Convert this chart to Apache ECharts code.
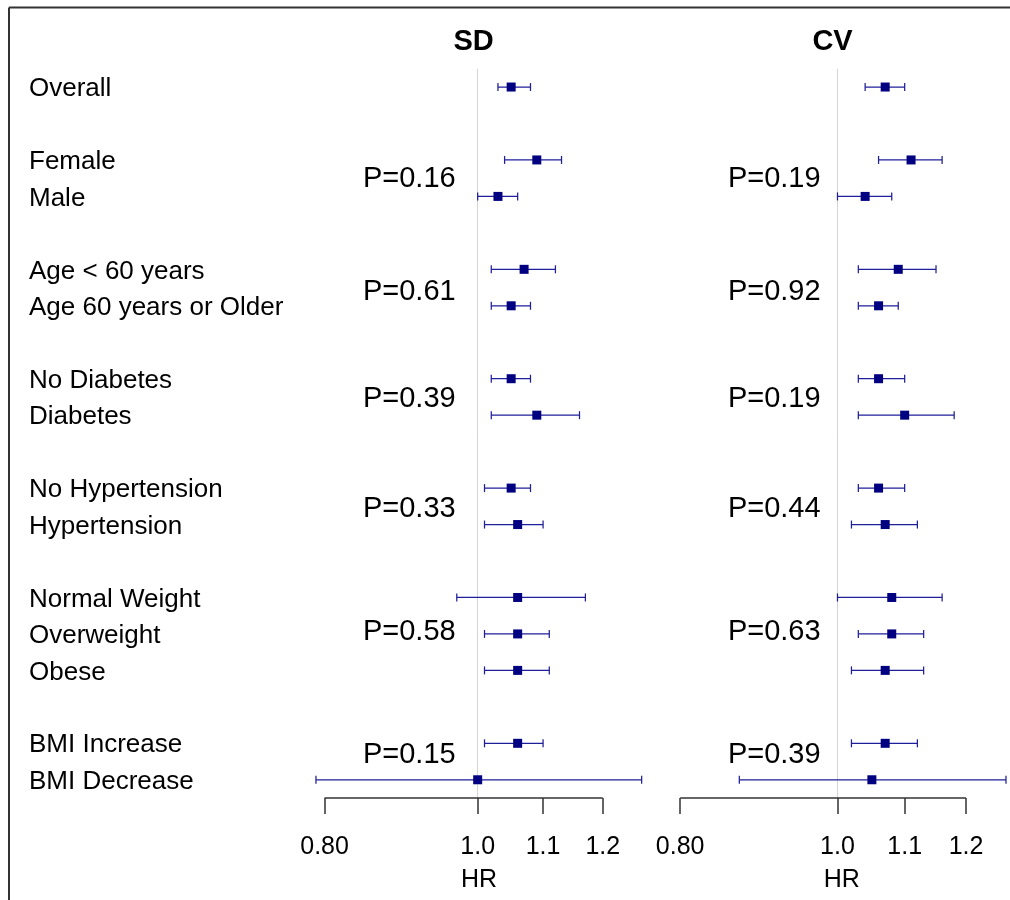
<!DOCTYPE html>
<html>
<head>
<meta charset="utf-8">
<script src="https://cdn.jsdelivr.net/npm/echarts@6/dist/echarts.min.js"></script>
<style>
html,body{margin:0;padding:0;background:#fff;}
#chart{width:1010px;height:900px;}
</style>
</head>
<body>
<div id="chart"></div>
<script>
// ---- data ----
const rowLabels = ['Overall','Female','Male','Age < 60 years','Age 60 years or Older','No Diabetes','Diabetes','No Hypertension','Hypertension','Normal Weight','Overweight','Obese','BMI Increase','BMI Decrease'];
const rowIndex = [0,2,3,5,6,8,9,11,12,14,15,16,18,19];

const sdEst  = [1.05,1.09,1.03,1.07,1.05,1.05,1.09,1.05,1.06,1.06,1.06,1.06,1.06,1.00];
const sdLow  = [1.03,1.04,1.00,1.02,1.02,1.02,1.02,1.01,1.01,0.97,1.01,1.01,1.01,0.79];
const sdHigh = [1.08,1.13,1.06,1.12,1.08,1.08,1.16,1.08,1.10,1.17,1.11,1.11,1.10,1.27];

const cvEst  = [1.07,1.11,1.04,1.09,1.06,1.06,1.10,1.06,1.07,1.08,1.08,1.07,1.07,1.05];
const cvLow  = [1.04,1.06,1.00,1.03,1.03,1.03,1.03,1.03,1.02,1.00,1.03,1.02,1.02,0.87];
const cvHigh = [1.10,1.16,1.08,1.15,1.09,1.10,1.18,1.10,1.12,1.16,1.13,1.13,1.12,1.27];

const pRows = [2.51,5.61,8.56,11.56,14.96,18.31];
const sdP = ['P=0.16','P=0.61','P=0.39','P=0.33','P=0.58','P=0.15'];
const cvP = ['P=0.19','P=0.92','P=0.19','P=0.44','P=0.63','P=0.39'];

const tickHR = [0.8,1.0,1.1,1.2];
const tickText = ['0.80','1.0','1.1','1.2'];

const panelTitles = ['SD','CV'];
const axisTitle = 'HR';

// ---- helpers ----
const FONT = "'Liberation Sans', Arial, sans-serif";
const ln = Math.log;
const tickLn = tickHR.map(ln);
const NAVY = '#000080';
const LABEL_SHIFT = 0.055; // small baseline correction for row labels

function ciData(est, low, high) {
  return est.map((e, i) => [ln(low[i]), ln(high[i]), ln(e), rowIndex[i]]);
}

function renderCI(params, api) {
  const y = api.value(3);
  const a = api.coord([api.value(0), y]);
  const b = api.coord([api.value(1), y]);
  const c = api.coord([api.value(2), y]);
  const cap = 4, sq = 9;
  const ls = { stroke: '#1f1f9a', lineWidth: 1.25 };
  return {
    type: 'group',
    children: [
      { type: 'line', shape: { x1: a[0], y1: a[1], x2: b[0], y2: b[1] }, style: ls },
      { type: 'line', shape: { x1: a[0], y1: a[1] - cap, x2: a[0], y2: a[1] + cap }, style: ls },
      { type: 'line', shape: { x1: b[0], y1: b[1] - cap, x2: b[0], y2: b[1] + cap }, style: ls },
      { type: 'rect', shape: { x: c[0] - sq / 2, y: c[1] - sq / 2, width: sq, height: sq }, style: { fill: NAVY } }
    ]
  };
}

const GRID_TOP = 68.8, GRID_H = 729.2;
const grids = [
  { left: 299.3, top: GRID_TOP, width: 349.9, height: GRID_H, outerBoundsMode: 'none', containLabel: false },
  { left: 654.2, top: GRID_TOP, width: 356.0, height: GRID_H, outerBoundsMode: 'none', containLabel: false }
];
const xRanges = [[-0.26, 0.25], [-0.26, 0.245]];

function makeX(i) {
  return {
    type: 'value', gridIndex: i, min: xRanges[i][0], max: xRanges[i][1],
    axisLine: { show: false, onZero: false },
    splitLine: { show: false },
    axisTick: { show: true, customValues: tickLn, length: 16, inside: false, lineStyle: { color: '#333', width: 1.5 } },
    axisLabel: {
      show: true, customValues: tickLn, margin: 37,
      fontFamily: FONT, fontSize: 25, color: '#000',
      formatter: v => { const k = tickLn.findIndex(t => Math.abs(t - v) < 1e-6); return k >= 0 ? tickText[k] : ''; }
    }
  };
}
const labelPos = rowIndex.map(r => r + LABEL_SHIFT);
function makeY(i) {
  return {
    type: 'value', gridIndex: i, min: -0.5, max: 19.5, inverse: true,
    axisLine: { show: false }, axisTick: { show: false }, splitLine: { show: false },
    axisLabel: i === 0 ? {
      show: true, customValues: labelPos, align: 'left', margin: 299.3 - 29,
      fontFamily: FONT, fontSize: 26, color: '#000',
      formatter: v => { const k = labelPos.findIndex(p => Math.abs(p - v) < 1e-6); return k >= 0 ? rowLabels[k] : ''; }
    } : { show: false }
  };
}

function annotations(i, pTexts, pX, titleX, hrX) {
  const data = [];
  pTexts.forEach((t, k) => data.push({
    value: [ln(pX), pRows[k]],
    label: { formatter: t, position: 'right', distance: 0, fontSize: 29, fontFamily: FONT, color: '#000' }
  }));
  data.push({ value: [titleX, -1.23], label: { formatter: panelTitles[i], position: 'inside', fontSize: 29, fontWeight: 'bold', fontFamily: FONT, color: '#000' } });
  data.push({ value: [hrX, 21.75], label: { formatter: axisTitle, position: 'inside', fontSize: 25, fontFamily: FONT, color: '#000' } });
  return {
    type: 'scatter', xAxisIndex: i, yAxisIndex: i, symbolSize: 0, clip: false, silent: true,
    itemStyle: { opacity: 1 },
    label: { show: true, color: '#000', textBorderWidth: 0, opacity: 1 }, data: data, z: 5
  };
}

function axisLineSeries(i) {
  return {
    type: 'line', xAxisIndex: i, yAxisIndex: i, symbol: 'none', clip: false, silent: true,
    lineStyle: { color: '#333', width: 1.5 },
    data: [[tickLn[0], 19.5], [tickLn[tickLn.length - 1], 19.5]], z: 4
  };
}

function ciSeries(i, data) {
  return {
    type: 'custom', xAxisIndex: i, yAxisIndex: i, renderItem: renderCI, clip: false,
    encode: { x: [0, 1, 2], y: 3 }, data: data, z: 3,
    markLine: {
      silent: true, symbol: 'none', label: { show: false },
      lineStyle: { color: '#d4d4d4', width: 1, type: 'solid' },
      data: [{ xAxis: 0 }], z: 1
    }
  };
}

const chart = echarts.init(document.getElementById('chart'), null, { renderer: 'canvas' });
chart.setOption({
  backgroundColor: '#fff',
  animation: false,
  grid: grids,
  xAxis: [makeX(0), makeX(1)],
  yAxis: [makeY(0), makeY(1)],
  graphic: [
    { type: 'line', shape: { x1: 9, y1: 7.5, x2: 1010, y2: 7.5 }, style: { stroke: '#333', lineWidth: 2 } },
    { type: 'line', shape: { x1: 9, y1: 7.5, x2: 9, y2: 900 }, style: { stroke: '#333', lineWidth: 2 } }
  ],
  series: [
    ciSeries(0, ciData(sdEst, sdLow, sdHigh)),
    ciSeries(1, ciData(cvEst, cvLow, cvHigh)),
    axisLineSeries(0),
    axisLineSeries(1),
    annotations(0, sdP, 0.846, -0.006, 0.002),
    annotations(1, cvP, 0.856, -0.007, 0.006)
  ]
});
</script>
</body>
</html>
